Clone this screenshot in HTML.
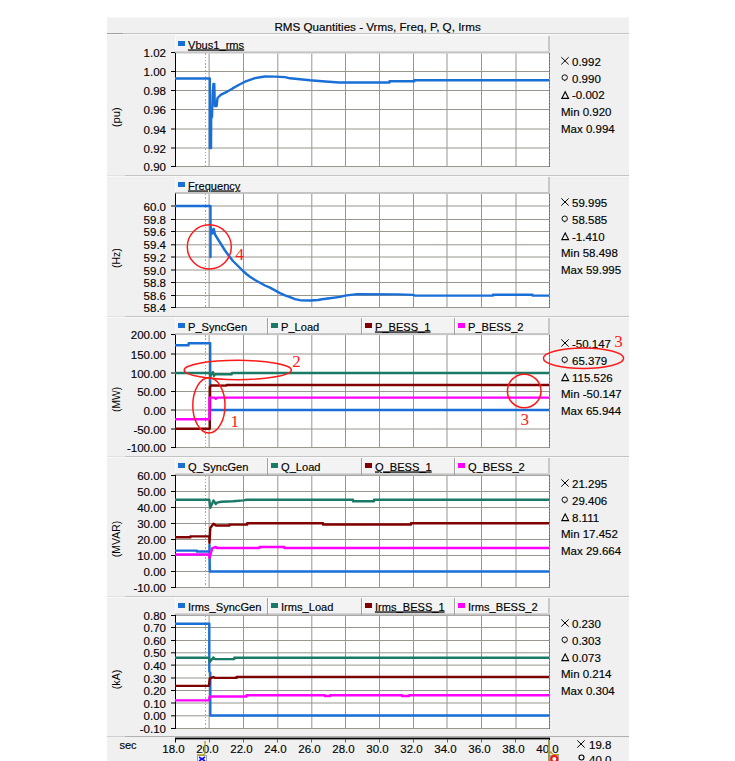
<!DOCTYPE html><html><head><meta charset="utf-8"><title>RMS Quantities</title><style>html,body{margin:0;padding:0;background:#fff;overflow:hidden}svg{display:block}</style></head><body>
<svg width="735" height="761" viewBox="0 0 735 761" shape-rendering="crispEdges">
<rect x="107" y="17" width="522" height="744" fill="#f0f0f0"/>
<rect x="107" y="17" width="522" height="1" fill="#f7f7f7"/>
<text x="377.6" y="30.5" font-size="11.65" text-anchor="middle" fill="#000" stroke="#000" stroke-width="0.15" font-family="'Liberation Sans', sans-serif" >RMS Quantities - Vrms, Freq, P, Q, Irms</text>
<rect x="107" y="33" width="522" height="1" fill="#c4c4c4"/>
<rect x="107" y="33" width="16" height="1" fill="#a0a0a0"/>
<rect x="107" y="34" width="522" height="1" fill="#f8f8f8"/>
<rect x="175" y="35" width="374" height="16.4" fill="#f3f3f3"/>
<rect x="175" y="35" width="374" height="1" fill="#fafafa"/>
<rect x="175" y="35" width="1" height="16.4" fill="#fafafa"/>
<rect x="175" y="53.4" width="374" height="113.6" fill="#fff" shape-rendering="geometricPrecision"/>
<rect x="208.6" y="53.4" width="1" height="112.6" fill="#9a968f" shape-rendering="geometricPrecision"/>
<rect x="243" y="53.4" width="1" height="112.6" fill="#9a968f" shape-rendering="geometricPrecision"/>
<rect x="277.3" y="53.4" width="1" height="112.6" fill="#9a968f" shape-rendering="geometricPrecision"/>
<rect x="311.3" y="53.4" width="1" height="112.6" fill="#9a968f" shape-rendering="geometricPrecision"/>
<rect x="345" y="53.4" width="1" height="112.6" fill="#9a968f" shape-rendering="geometricPrecision"/>
<rect x="379" y="53.4" width="1" height="112.6" fill="#9a968f" shape-rendering="geometricPrecision"/>
<rect x="413" y="53.4" width="1" height="112.6" fill="#9a968f" shape-rendering="geometricPrecision"/>
<rect x="446.5" y="53.4" width="1" height="112.6" fill="#9a968f" shape-rendering="geometricPrecision"/>
<rect x="481" y="53.4" width="1" height="112.6" fill="#9a968f" shape-rendering="geometricPrecision"/>
<rect x="515.5" y="53.4" width="1" height="112.6" fill="#9a968f" shape-rendering="geometricPrecision"/>
<rect x="175" y="52" width="374" height="1" fill="#9a968f" shape-rendering="geometricPrecision"/>
<rect x="171" y="52" width="4" height="1" fill="#000" shape-rendering="geometricPrecision"/>
<text x="166" y="57" font-size="11.5" text-anchor="end" fill="#000" stroke="#000" stroke-width="0.15" font-family="'Liberation Sans', sans-serif" >1.02</text>
<rect x="175" y="71" width="374" height="1" fill="#9a968f" shape-rendering="geometricPrecision"/>
<rect x="171" y="71" width="4" height="1" fill="#000" shape-rendering="geometricPrecision"/>
<text x="166" y="76" font-size="11.5" text-anchor="end" fill="#000" stroke="#000" stroke-width="0.15" font-family="'Liberation Sans', sans-serif" >1.00</text>
<rect x="175" y="90" width="374" height="1" fill="#9a968f" shape-rendering="geometricPrecision"/>
<rect x="171" y="90" width="4" height="1" fill="#000" shape-rendering="geometricPrecision"/>
<text x="166" y="95" font-size="11.5" text-anchor="end" fill="#000" stroke="#000" stroke-width="0.15" font-family="'Liberation Sans', sans-serif" >0.98</text>
<rect x="175" y="109" width="374" height="1" fill="#9a968f" shape-rendering="geometricPrecision"/>
<rect x="171" y="109" width="4" height="1" fill="#000" shape-rendering="geometricPrecision"/>
<text x="166" y="114" font-size="11.5" text-anchor="end" fill="#000" stroke="#000" stroke-width="0.15" font-family="'Liberation Sans', sans-serif" >0.96</text>
<rect x="175" y="128.5" width="374" height="1" fill="#9a968f" shape-rendering="geometricPrecision"/>
<rect x="171" y="128.5" width="4" height="1" fill="#000" shape-rendering="geometricPrecision"/>
<text x="166" y="133.5" font-size="11.5" text-anchor="end" fill="#000" stroke="#000" stroke-width="0.15" font-family="'Liberation Sans', sans-serif" >0.94</text>
<rect x="175" y="147.5" width="374" height="1" fill="#9a968f" shape-rendering="geometricPrecision"/>
<rect x="171" y="147.5" width="4" height="1" fill="#000" shape-rendering="geometricPrecision"/>
<text x="166" y="152.5" font-size="11.5" text-anchor="end" fill="#000" stroke="#000" stroke-width="0.15" font-family="'Liberation Sans', sans-serif" >0.92</text>
<rect x="175" y="166" width="374" height="1" fill="#9a968f" shape-rendering="geometricPrecision"/>
<rect x="171" y="166" width="4" height="1" fill="#000" shape-rendering="geometricPrecision"/>
<text x="166" y="171" font-size="11.5" text-anchor="end" fill="#000" stroke="#000" stroke-width="0.15" font-family="'Liberation Sans', sans-serif" >0.90</text>
<rect x="175" y="51.4" width="375" height="2" fill="#c4c4c4" shape-rendering="geometricPrecision"/>
<rect x="175" y="52.9" width="1" height="114.1" fill="#000" shape-rendering="geometricPrecision"/>
<rect x="549" y="53.4" width="1" height="113.6" fill="#909090"/>
<line x1="549.5" y1="53.4" x2="549.5" y2="167" stroke="#e03050" stroke-width="1" stroke-dasharray="1.6,1.7" shape-rendering="geometricPrecision"/>
<line x1="205.5" y1="53.4" x2="205.5" y2="167" stroke="#7aaef2" stroke-width="1" stroke-dasharray="1.4,1.87"/>
<text x="0" y="0" font-size="11.3" font-family="'Liberation Sans', sans-serif" text-anchor="middle" textLength="20" lengthAdjust="spacingAndGlyphs" transform="translate(119.6,117.3) rotate(-90)">(pu)</text>
<rect x="178" y="41" width="7" height="5" fill="#1a6fd6"/>
<text x="188" y="48.5" font-size="11.1" text-anchor="start" fill="#000" stroke="#000" stroke-width="0.15" font-family="'Liberation Sans', sans-serif"  text-decoration="underline">Vbus1_rms</text>
<rect x="548" y="36" width="2" height="15.399999999999999" fill="#c8c8c8"/>
<path d="M561.3 57.199999999999996 L568.7 64.39999999999999 M568.7 57.199999999999996 L561.3 64.39999999999999" stroke="#000" stroke-width="1" fill="none" shape-rendering="geometricPrecision"/>
<text x="572" y="65.8" font-size="11.5" text-anchor="start" fill="#000" stroke="#000" stroke-width="0.15" font-family="'Liberation Sans', sans-serif" >0.992</text>
<circle cx="564.7" cy="77.5" r="2.7" stroke="#000" stroke-width="0.95" fill="none" shape-rendering="geometricPrecision"/>
<rect x="564.2" y="80.1" width="1" height="1" fill="#000" shape-rendering="geometricPrecision"/>
<text x="572" y="82.6" font-size="11.5" text-anchor="start" fill="#000" stroke="#000" stroke-width="0.15" font-family="'Liberation Sans', sans-serif" >0.990</text>
<path d="M565.2 91.80000000000001 L568.6 98.4 L561.8 98.4 Z" stroke="#000" stroke-width="1.1" stroke-linejoin="miter" fill="none" shape-rendering="geometricPrecision"/>
<text x="572" y="99.4" font-size="11.5" text-anchor="start" fill="#000" stroke="#000" stroke-width="0.15" font-family="'Liberation Sans', sans-serif" >-0.002</text>
<text x="561" y="116.2" font-size="11.5" text-anchor="start" fill="#000" stroke="#000" stroke-width="0.15" font-family="'Liberation Sans', sans-serif" >Min 0.920</text>
<text x="561" y="133.0" font-size="11.5" text-anchor="start" fill="#000" stroke="#000" stroke-width="0.15" font-family="'Liberation Sans', sans-serif" >Max 0.994</text>
<rect x="107" y="175" width="18" height="1" fill="#e2e2e2"/>
<rect x="125" y="175" width="504" height="1" fill="#c4c4c4"/>
<rect x="107" y="176" width="522" height="1" fill="#f8f8f8"/>
<rect x="175" y="176" width="374" height="16" fill="#f3f3f3"/>
<rect x="175" y="176" width="374" height="1" fill="#fafafa"/>
<rect x="175" y="176" width="1" height="16" fill="#fafafa"/>
<rect x="175" y="194" width="374" height="114" fill="#fff" shape-rendering="geometricPrecision"/>
<rect x="208.6" y="194" width="1" height="113" fill="#9a968f" shape-rendering="geometricPrecision"/>
<rect x="243" y="194" width="1" height="113" fill="#9a968f" shape-rendering="geometricPrecision"/>
<rect x="277.3" y="194" width="1" height="113" fill="#9a968f" shape-rendering="geometricPrecision"/>
<rect x="311.3" y="194" width="1" height="113" fill="#9a968f" shape-rendering="geometricPrecision"/>
<rect x="345" y="194" width="1" height="113" fill="#9a968f" shape-rendering="geometricPrecision"/>
<rect x="379" y="194" width="1" height="113" fill="#9a968f" shape-rendering="geometricPrecision"/>
<rect x="413" y="194" width="1" height="113" fill="#9a968f" shape-rendering="geometricPrecision"/>
<rect x="446.5" y="194" width="1" height="113" fill="#9a968f" shape-rendering="geometricPrecision"/>
<rect x="481" y="194" width="1" height="113" fill="#9a968f" shape-rendering="geometricPrecision"/>
<rect x="515.5" y="194" width="1" height="113" fill="#9a968f" shape-rendering="geometricPrecision"/>
<rect x="175" y="205.5" width="374" height="1" fill="#9a968f" shape-rendering="geometricPrecision"/>
<rect x="171" y="205.5" width="4" height="1" fill="#000" shape-rendering="geometricPrecision"/>
<text x="166" y="210.5" font-size="11.5" text-anchor="end" fill="#000" stroke="#000" stroke-width="0.15" font-family="'Liberation Sans', sans-serif" >60.0</text>
<rect x="175" y="219" width="374" height="1" fill="#9a968f" shape-rendering="geometricPrecision"/>
<rect x="171" y="219" width="4" height="1" fill="#000" shape-rendering="geometricPrecision"/>
<text x="166" y="224" font-size="11.5" text-anchor="end" fill="#000" stroke="#000" stroke-width="0.15" font-family="'Liberation Sans', sans-serif" >59.8</text>
<rect x="175" y="231" width="374" height="1" fill="#9a968f" shape-rendering="geometricPrecision"/>
<rect x="171" y="231" width="4" height="1" fill="#000" shape-rendering="geometricPrecision"/>
<text x="166" y="236" font-size="11.5" text-anchor="end" fill="#000" stroke="#000" stroke-width="0.15" font-family="'Liberation Sans', sans-serif" >59.6</text>
<rect x="175" y="244.3" width="374" height="1" fill="#9a968f" shape-rendering="geometricPrecision"/>
<rect x="171" y="244.3" width="4" height="1" fill="#000" shape-rendering="geometricPrecision"/>
<text x="166" y="249.3" font-size="11.5" text-anchor="end" fill="#000" stroke="#000" stroke-width="0.15" font-family="'Liberation Sans', sans-serif" >59.4</text>
<rect x="175" y="256.5" width="374" height="1" fill="#9a968f" shape-rendering="geometricPrecision"/>
<rect x="171" y="256.5" width="4" height="1" fill="#000" shape-rendering="geometricPrecision"/>
<text x="166" y="261.5" font-size="11.5" text-anchor="end" fill="#000" stroke="#000" stroke-width="0.15" font-family="'Liberation Sans', sans-serif" >59.2</text>
<rect x="175" y="269.5" width="374" height="1" fill="#9a968f" shape-rendering="geometricPrecision"/>
<rect x="171" y="269.5" width="4" height="1" fill="#000" shape-rendering="geometricPrecision"/>
<text x="166" y="274.5" font-size="11.5" text-anchor="end" fill="#000" stroke="#000" stroke-width="0.15" font-family="'Liberation Sans', sans-serif" >59.0</text>
<rect x="175" y="282" width="374" height="1" fill="#9a968f" shape-rendering="geometricPrecision"/>
<rect x="171" y="282" width="4" height="1" fill="#000" shape-rendering="geometricPrecision"/>
<text x="166" y="287" font-size="11.5" text-anchor="end" fill="#000" stroke="#000" stroke-width="0.15" font-family="'Liberation Sans', sans-serif" >58.8</text>
<rect x="175" y="295" width="374" height="1" fill="#9a968f" shape-rendering="geometricPrecision"/>
<rect x="171" y="295" width="4" height="1" fill="#000" shape-rendering="geometricPrecision"/>
<text x="166" y="300" font-size="11.5" text-anchor="end" fill="#000" stroke="#000" stroke-width="0.15" font-family="'Liberation Sans', sans-serif" >58.6</text>
<rect x="175" y="307" width="374" height="1" fill="#9a968f" shape-rendering="geometricPrecision"/>
<rect x="171" y="307" width="4" height="1" fill="#000" shape-rendering="geometricPrecision"/>
<text x="166" y="312" font-size="11.5" text-anchor="end" fill="#000" stroke="#000" stroke-width="0.15" font-family="'Liberation Sans', sans-serif" >58.4</text>
<rect x="175" y="192" width="375" height="2" fill="#c4c4c4" shape-rendering="geometricPrecision"/>
<rect x="175" y="193.5" width="1" height="114.5" fill="#000" shape-rendering="geometricPrecision"/>
<rect x="549" y="194" width="1" height="114" fill="#909090"/>
<line x1="549.5" y1="194" x2="549.5" y2="308" stroke="#e03050" stroke-width="1" stroke-dasharray="1.6,1.7" shape-rendering="geometricPrecision"/>
<line x1="205.5" y1="194" x2="205.5" y2="308" stroke="#7aaef2" stroke-width="1" stroke-dasharray="1.4,1.87"/>
<text x="0" y="0" font-size="11.3" font-family="'Liberation Sans', sans-serif" text-anchor="middle" textLength="19.8" lengthAdjust="spacingAndGlyphs" transform="translate(119.6,258.2) rotate(-90)">(Hz)</text>
<rect x="178" y="182" width="7" height="5" fill="#1a6fd6"/>
<text x="188" y="189.5" font-size="11.1" text-anchor="start" fill="#000" stroke="#000" stroke-width="0.15" font-family="'Liberation Sans', sans-serif"  text-decoration="underline">Frequency</text>
<rect x="548" y="177" width="2" height="15" fill="#c8c8c8"/>
<path d="M561.3 198.4 L568.7 205.6 M568.7 198.4 L561.3 205.6" stroke="#000" stroke-width="1" fill="none" shape-rendering="geometricPrecision"/>
<text x="572" y="207.0" font-size="11.5" text-anchor="start" fill="#000" stroke="#000" stroke-width="0.15" font-family="'Liberation Sans', sans-serif" >59.995</text>
<circle cx="564.7" cy="218.70000000000002" r="2.7" stroke="#000" stroke-width="0.95" fill="none" shape-rendering="geometricPrecision"/>
<rect x="564.2" y="221.3" width="1" height="1" fill="#000" shape-rendering="geometricPrecision"/>
<text x="572" y="223.8" font-size="11.5" text-anchor="start" fill="#000" stroke="#000" stroke-width="0.15" font-family="'Liberation Sans', sans-serif" >58.585</text>
<path d="M565.2 233.0 L568.6 239.6 L561.8 239.6 Z" stroke="#000" stroke-width="1.1" stroke-linejoin="miter" fill="none" shape-rendering="geometricPrecision"/>
<text x="572" y="240.6" font-size="11.5" text-anchor="start" fill="#000" stroke="#000" stroke-width="0.15" font-family="'Liberation Sans', sans-serif" >-1.410</text>
<text x="561" y="257.4" font-size="11.5" text-anchor="start" fill="#000" stroke="#000" stroke-width="0.15" font-family="'Liberation Sans', sans-serif" >Min 58.498</text>
<text x="561" y="274.2" font-size="11.5" text-anchor="start" fill="#000" stroke="#000" stroke-width="0.15" font-family="'Liberation Sans', sans-serif" >Max 59.995</text>
<rect x="107" y="316" width="18" height="1" fill="#e2e2e2"/>
<rect x="125" y="316" width="504" height="1" fill="#c4c4c4"/>
<rect x="107" y="317" width="522" height="1" fill="#f8f8f8"/>
<rect x="175" y="317" width="374" height="16.100000000000023" fill="#f3f3f3"/>
<rect x="175" y="317" width="374" height="1" fill="#fafafa"/>
<rect x="175" y="317" width="1" height="16.100000000000023" fill="#fafafa"/>
<rect x="175" y="335.1" width="374" height="112.89999999999998" fill="#fff" shape-rendering="geometricPrecision"/>
<rect x="208.6" y="335.1" width="1" height="111.89999999999998" fill="#9a968f" shape-rendering="geometricPrecision"/>
<rect x="243" y="335.1" width="1" height="111.89999999999998" fill="#9a968f" shape-rendering="geometricPrecision"/>
<rect x="277.3" y="335.1" width="1" height="111.89999999999998" fill="#9a968f" shape-rendering="geometricPrecision"/>
<rect x="311.3" y="335.1" width="1" height="111.89999999999998" fill="#9a968f" shape-rendering="geometricPrecision"/>
<rect x="345" y="335.1" width="1" height="111.89999999999998" fill="#9a968f" shape-rendering="geometricPrecision"/>
<rect x="379" y="335.1" width="1" height="111.89999999999998" fill="#9a968f" shape-rendering="geometricPrecision"/>
<rect x="413" y="335.1" width="1" height="111.89999999999998" fill="#9a968f" shape-rendering="geometricPrecision"/>
<rect x="446.5" y="335.1" width="1" height="111.89999999999998" fill="#9a968f" shape-rendering="geometricPrecision"/>
<rect x="481" y="335.1" width="1" height="111.89999999999998" fill="#9a968f" shape-rendering="geometricPrecision"/>
<rect x="515.5" y="335.1" width="1" height="111.89999999999998" fill="#9a968f" shape-rendering="geometricPrecision"/>
<rect x="175" y="334" width="374" height="1" fill="#9a968f" shape-rendering="geometricPrecision"/>
<rect x="171" y="334" width="4" height="1" fill="#000" shape-rendering="geometricPrecision"/>
<text x="166" y="339" font-size="11.5" text-anchor="end" fill="#000" stroke="#000" stroke-width="0.15" font-family="'Liberation Sans', sans-serif" >200.00</text>
<rect x="175" y="353.5" width="374" height="1" fill="#9a968f" shape-rendering="geometricPrecision"/>
<rect x="171" y="353.5" width="4" height="1" fill="#000" shape-rendering="geometricPrecision"/>
<text x="166" y="358.5" font-size="11.5" text-anchor="end" fill="#000" stroke="#000" stroke-width="0.15" font-family="'Liberation Sans', sans-serif" >150.00</text>
<rect x="175" y="372.5" width="374" height="1" fill="#9a968f" shape-rendering="geometricPrecision"/>
<rect x="171" y="372.5" width="4" height="1" fill="#000" shape-rendering="geometricPrecision"/>
<text x="166" y="377.5" font-size="11.5" text-anchor="end" fill="#000" stroke="#000" stroke-width="0.15" font-family="'Liberation Sans', sans-serif" >100.00</text>
<rect x="175" y="391" width="374" height="1" fill="#9a968f" shape-rendering="geometricPrecision"/>
<rect x="171" y="391" width="4" height="1" fill="#000" shape-rendering="geometricPrecision"/>
<text x="166" y="396" font-size="11.5" text-anchor="end" fill="#000" stroke="#000" stroke-width="0.15" font-family="'Liberation Sans', sans-serif" >50.00</text>
<rect x="175" y="409.5" width="374" height="1" fill="#9a968f" shape-rendering="geometricPrecision"/>
<rect x="171" y="409.5" width="4" height="1" fill="#000" shape-rendering="geometricPrecision"/>
<text x="166" y="414.5" font-size="11.5" text-anchor="end" fill="#000" stroke="#000" stroke-width="0.15" font-family="'Liberation Sans', sans-serif" >0.00</text>
<rect x="175" y="428.5" width="374" height="1" fill="#9a968f" shape-rendering="geometricPrecision"/>
<rect x="171" y="428.5" width="4" height="1" fill="#000" shape-rendering="geometricPrecision"/>
<text x="166" y="433.5" font-size="11.5" text-anchor="end" fill="#000" stroke="#000" stroke-width="0.15" font-family="'Liberation Sans', sans-serif" >-50.00</text>
<rect x="175" y="447" width="374" height="1" fill="#9a968f" shape-rendering="geometricPrecision"/>
<rect x="171" y="447" width="4" height="1" fill="#000" shape-rendering="geometricPrecision"/>
<text x="166" y="452" font-size="11.5" text-anchor="end" fill="#000" stroke="#000" stroke-width="0.15" font-family="'Liberation Sans', sans-serif" >-100.00</text>
<rect x="175" y="333.1" width="375" height="2" fill="#c4c4c4" shape-rendering="geometricPrecision"/>
<rect x="175" y="334.6" width="1" height="113.39999999999998" fill="#000" shape-rendering="geometricPrecision"/>
<rect x="549" y="335.1" width="1" height="112.89999999999998" fill="#909090"/>
<line x1="549.5" y1="335.1" x2="549.5" y2="448" stroke="#e03050" stroke-width="1" stroke-dasharray="1.6,1.7" shape-rendering="geometricPrecision"/>
<line x1="205.5" y1="335.1" x2="205.5" y2="448" stroke="#7aaef2" stroke-width="1" stroke-dasharray="1.4,1.87"/>
<text x="0" y="0" font-size="11.3" font-family="'Liberation Sans', sans-serif" text-anchor="middle" textLength="25" lengthAdjust="spacingAndGlyphs" transform="translate(119.6,399.4) rotate(-90)">(MW)</text>
<rect x="178" y="323" width="7" height="5" fill="#1a6fd6"/>
<text x="188" y="330.5" font-size="11.1" text-anchor="start" fill="#000" stroke="#000" stroke-width="0.15" font-family="'Liberation Sans', sans-serif" >P_SyncGen</text>
<rect x="267" y="318" width="1" height="16.700000000000024" fill="#a0a0a0" shape-rendering="geometricPrecision"/>
<rect x="268" y="318" width="1" height="15.100000000000023" fill="#fcfcfc"/>
<rect x="271" y="323" width="7" height="5" fill="#1b7a66"/>
<text x="281" y="330.5" font-size="11.1" text-anchor="start" fill="#000" stroke="#000" stroke-width="0.15" font-family="'Liberation Sans', sans-serif" >P_Load</text>
<rect x="361" y="318" width="1" height="16.700000000000024" fill="#a0a0a0" shape-rendering="geometricPrecision"/>
<rect x="362" y="318" width="1" height="15.100000000000023" fill="#fcfcfc"/>
<rect x="365" y="323" width="7" height="5" fill="#800000"/>
<text x="375" y="330.5" font-size="11.1" text-anchor="start" fill="#000" stroke="#000" stroke-width="0.15" font-family="'Liberation Sans', sans-serif"  text-decoration="underline">P_BESS_1</text>
<rect x="454" y="318" width="1" height="16.700000000000024" fill="#a0a0a0" shape-rendering="geometricPrecision"/>
<rect x="455" y="318" width="1" height="15.100000000000023" fill="#fcfcfc"/>
<rect x="458" y="323" width="7" height="5" fill="#ff00ff"/>
<text x="468" y="330.5" font-size="11.1" text-anchor="start" fill="#000" stroke="#000" stroke-width="0.15" font-family="'Liberation Sans', sans-serif" >P_BESS_2</text>
<rect x="548" y="318" width="2" height="15.100000000000023" fill="#c8c8c8"/>
<path d="M561.3 339.4 L568.7 346.6 M568.7 339.4 L561.3 346.6" stroke="#000" stroke-width="1" fill="none" shape-rendering="geometricPrecision"/>
<text x="572" y="348.0" font-size="11.5" text-anchor="start" fill="#000" stroke="#000" stroke-width="0.15" font-family="'Liberation Sans', sans-serif" >-50.147</text>
<circle cx="564.7" cy="359.7" r="2.7" stroke="#000" stroke-width="0.95" fill="none" shape-rendering="geometricPrecision"/>
<rect x="564.2" y="362.3" width="1" height="1" fill="#000" shape-rendering="geometricPrecision"/>
<text x="572" y="364.8" font-size="11.5" text-anchor="start" fill="#000" stroke="#000" stroke-width="0.15" font-family="'Liberation Sans', sans-serif" >65.379</text>
<path d="M565.2 374.0 L568.6 380.6 L561.8 380.6 Z" stroke="#000" stroke-width="1.1" stroke-linejoin="miter" fill="none" shape-rendering="geometricPrecision"/>
<text x="572" y="381.6" font-size="11.5" text-anchor="start" fill="#000" stroke="#000" stroke-width="0.15" font-family="'Liberation Sans', sans-serif" >115.526</text>
<text x="561" y="398.4" font-size="11.5" text-anchor="start" fill="#000" stroke="#000" stroke-width="0.15" font-family="'Liberation Sans', sans-serif" >Min -50.147</text>
<text x="561" y="415.2" font-size="11.5" text-anchor="start" fill="#000" stroke="#000" stroke-width="0.15" font-family="'Liberation Sans', sans-serif" >Max 65.944</text>
<rect x="107" y="456" width="18" height="1" fill="#e2e2e2"/>
<rect x="125" y="456" width="504" height="1" fill="#c4c4c4"/>
<rect x="107" y="457" width="522" height="1" fill="#f8f8f8"/>
<rect x="175" y="457" width="374" height="16.399999999999977" fill="#f3f3f3"/>
<rect x="175" y="457" width="374" height="1" fill="#fafafa"/>
<rect x="175" y="457" width="1" height="16.399999999999977" fill="#fafafa"/>
<rect x="175" y="475.4" width="374" height="112.60000000000002" fill="#fff" shape-rendering="geometricPrecision"/>
<rect x="208.6" y="475.4" width="1" height="111.60000000000002" fill="#9a968f" shape-rendering="geometricPrecision"/>
<rect x="243" y="475.4" width="1" height="111.60000000000002" fill="#9a968f" shape-rendering="geometricPrecision"/>
<rect x="277.3" y="475.4" width="1" height="111.60000000000002" fill="#9a968f" shape-rendering="geometricPrecision"/>
<rect x="311.3" y="475.4" width="1" height="111.60000000000002" fill="#9a968f" shape-rendering="geometricPrecision"/>
<rect x="345" y="475.4" width="1" height="111.60000000000002" fill="#9a968f" shape-rendering="geometricPrecision"/>
<rect x="379" y="475.4" width="1" height="111.60000000000002" fill="#9a968f" shape-rendering="geometricPrecision"/>
<rect x="413" y="475.4" width="1" height="111.60000000000002" fill="#9a968f" shape-rendering="geometricPrecision"/>
<rect x="446.5" y="475.4" width="1" height="111.60000000000002" fill="#9a968f" shape-rendering="geometricPrecision"/>
<rect x="481" y="475.4" width="1" height="111.60000000000002" fill="#9a968f" shape-rendering="geometricPrecision"/>
<rect x="515.5" y="475.4" width="1" height="111.60000000000002" fill="#9a968f" shape-rendering="geometricPrecision"/>
<rect x="175" y="475" width="374" height="1" fill="#9a968f" shape-rendering="geometricPrecision"/>
<rect x="171" y="475" width="4" height="1" fill="#000" shape-rendering="geometricPrecision"/>
<text x="166" y="480" font-size="11.5" text-anchor="end" fill="#000" stroke="#000" stroke-width="0.15" font-family="'Liberation Sans', sans-serif" >60.00</text>
<rect x="175" y="491" width="374" height="1" fill="#9a968f" shape-rendering="geometricPrecision"/>
<rect x="171" y="491" width="4" height="1" fill="#000" shape-rendering="geometricPrecision"/>
<text x="166" y="496" font-size="11.5" text-anchor="end" fill="#000" stroke="#000" stroke-width="0.15" font-family="'Liberation Sans', sans-serif" >50.00</text>
<rect x="175" y="507" width="374" height="1" fill="#9a968f" shape-rendering="geometricPrecision"/>
<rect x="171" y="507" width="4" height="1" fill="#000" shape-rendering="geometricPrecision"/>
<text x="166" y="512" font-size="11.5" text-anchor="end" fill="#000" stroke="#000" stroke-width="0.15" font-family="'Liberation Sans', sans-serif" >40.00</text>
<rect x="175" y="523" width="374" height="1" fill="#9a968f" shape-rendering="geometricPrecision"/>
<rect x="171" y="523" width="4" height="1" fill="#000" shape-rendering="geometricPrecision"/>
<text x="166" y="528" font-size="11.5" text-anchor="end" fill="#000" stroke="#000" stroke-width="0.15" font-family="'Liberation Sans', sans-serif" >30.00</text>
<rect x="175" y="539" width="374" height="1" fill="#9a968f" shape-rendering="geometricPrecision"/>
<rect x="171" y="539" width="4" height="1" fill="#000" shape-rendering="geometricPrecision"/>
<text x="166" y="544" font-size="11.5" text-anchor="end" fill="#000" stroke="#000" stroke-width="0.15" font-family="'Liberation Sans', sans-serif" >20.00</text>
<rect x="175" y="555" width="374" height="1" fill="#9a968f" shape-rendering="geometricPrecision"/>
<rect x="171" y="555" width="4" height="1" fill="#000" shape-rendering="geometricPrecision"/>
<text x="166" y="560" font-size="11.5" text-anchor="end" fill="#000" stroke="#000" stroke-width="0.15" font-family="'Liberation Sans', sans-serif" >10.00</text>
<rect x="175" y="571" width="374" height="1" fill="#9a968f" shape-rendering="geometricPrecision"/>
<rect x="171" y="571" width="4" height="1" fill="#000" shape-rendering="geometricPrecision"/>
<text x="166" y="576" font-size="11.5" text-anchor="end" fill="#000" stroke="#000" stroke-width="0.15" font-family="'Liberation Sans', sans-serif" >0.00</text>
<rect x="175" y="587" width="374" height="1" fill="#9a968f" shape-rendering="geometricPrecision"/>
<rect x="171" y="587" width="4" height="1" fill="#000" shape-rendering="geometricPrecision"/>
<text x="166" y="592" font-size="11.5" text-anchor="end" fill="#000" stroke="#000" stroke-width="0.15" font-family="'Liberation Sans', sans-serif" >-10.00</text>
<rect x="175" y="473.4" width="375" height="2" fill="#c4c4c4" shape-rendering="geometricPrecision"/>
<rect x="175" y="474.9" width="1" height="113.10000000000002" fill="#000" shape-rendering="geometricPrecision"/>
<rect x="549" y="475.4" width="1" height="112.60000000000002" fill="#909090"/>
<line x1="549.5" y1="475.4" x2="549.5" y2="588" stroke="#e03050" stroke-width="1" stroke-dasharray="1.6,1.7" shape-rendering="geometricPrecision"/>
<line x1="205.5" y1="475.4" x2="205.5" y2="588" stroke="#7aaef2" stroke-width="1" stroke-dasharray="1.4,1.87"/>
<text x="0" y="0" font-size="11.3" font-family="'Liberation Sans', sans-serif" text-anchor="middle" textLength="36.3" lengthAdjust="spacingAndGlyphs" transform="translate(119.6,539) rotate(-90)">(MVAR)</text>
<rect x="178" y="463" width="7" height="5" fill="#1a6fd6"/>
<text x="188" y="470.5" font-size="11.1" text-anchor="start" fill="#000" stroke="#000" stroke-width="0.15" font-family="'Liberation Sans', sans-serif" >Q_SyncGen</text>
<rect x="267" y="458" width="1" height="16.99999999999998" fill="#a0a0a0" shape-rendering="geometricPrecision"/>
<rect x="268" y="458" width="1" height="15.399999999999977" fill="#fcfcfc"/>
<rect x="271" y="463" width="7" height="5" fill="#1b7a66"/>
<text x="281" y="470.5" font-size="11.1" text-anchor="start" fill="#000" stroke="#000" stroke-width="0.15" font-family="'Liberation Sans', sans-serif" >Q_Load</text>
<rect x="361" y="458" width="1" height="16.99999999999998" fill="#a0a0a0" shape-rendering="geometricPrecision"/>
<rect x="362" y="458" width="1" height="15.399999999999977" fill="#fcfcfc"/>
<rect x="365" y="463" width="7" height="5" fill="#800000"/>
<text x="375" y="470.5" font-size="11.1" text-anchor="start" fill="#000" stroke="#000" stroke-width="0.15" font-family="'Liberation Sans', sans-serif"  text-decoration="underline">Q_BESS_1</text>
<rect x="454" y="458" width="1" height="16.99999999999998" fill="#a0a0a0" shape-rendering="geometricPrecision"/>
<rect x="455" y="458" width="1" height="15.399999999999977" fill="#fcfcfc"/>
<rect x="458" y="463" width="7" height="5" fill="#ff00ff"/>
<text x="468" y="470.5" font-size="11.1" text-anchor="start" fill="#000" stroke="#000" stroke-width="0.15" font-family="'Liberation Sans', sans-serif" >Q_BESS_2</text>
<rect x="548" y="458" width="2" height="15.399999999999977" fill="#c8c8c8"/>
<path d="M561.3 479.4 L568.7 486.6 M568.7 479.4 L561.3 486.6" stroke="#000" stroke-width="1" fill="none" shape-rendering="geometricPrecision"/>
<text x="572" y="488.0" font-size="11.5" text-anchor="start" fill="#000" stroke="#000" stroke-width="0.15" font-family="'Liberation Sans', sans-serif" >21.295</text>
<circle cx="564.7" cy="499.7" r="2.7" stroke="#000" stroke-width="0.95" fill="none" shape-rendering="geometricPrecision"/>
<rect x="564.2" y="502.3" width="1" height="1" fill="#000" shape-rendering="geometricPrecision"/>
<text x="572" y="504.8" font-size="11.5" text-anchor="start" fill="#000" stroke="#000" stroke-width="0.15" font-family="'Liberation Sans', sans-serif" >29.406</text>
<path d="M565.2 514.0 L568.6 520.6 L561.8 520.6 Z" stroke="#000" stroke-width="1.1" stroke-linejoin="miter" fill="none" shape-rendering="geometricPrecision"/>
<text x="572" y="521.6" font-size="11.5" text-anchor="start" fill="#000" stroke="#000" stroke-width="0.15" font-family="'Liberation Sans', sans-serif" >8.111</text>
<text x="561" y="538.4" font-size="11.5" text-anchor="start" fill="#000" stroke="#000" stroke-width="0.15" font-family="'Liberation Sans', sans-serif" >Min 17.452</text>
<text x="561" y="555.2" font-size="11.5" text-anchor="start" fill="#000" stroke="#000" stroke-width="0.15" font-family="'Liberation Sans', sans-serif" >Max 29.664</text>
<rect x="107" y="596" width="18" height="1" fill="#e2e2e2"/>
<rect x="125" y="596" width="504" height="1" fill="#c4c4c4"/>
<rect x="107" y="597" width="522" height="1" fill="#f8f8f8"/>
<rect x="175" y="597" width="374" height="16.399999999999977" fill="#f3f3f3"/>
<rect x="175" y="597" width="374" height="1" fill="#fafafa"/>
<rect x="175" y="597" width="1" height="16.399999999999977" fill="#fafafa"/>
<rect x="175" y="615.4" width="374" height="113.60000000000002" fill="#fff" shape-rendering="geometricPrecision"/>
<rect x="208.6" y="615.4" width="1" height="112.60000000000002" fill="#9a968f" shape-rendering="geometricPrecision"/>
<rect x="243" y="615.4" width="1" height="112.60000000000002" fill="#9a968f" shape-rendering="geometricPrecision"/>
<rect x="277.3" y="615.4" width="1" height="112.60000000000002" fill="#9a968f" shape-rendering="geometricPrecision"/>
<rect x="311.3" y="615.4" width="1" height="112.60000000000002" fill="#9a968f" shape-rendering="geometricPrecision"/>
<rect x="345" y="615.4" width="1" height="112.60000000000002" fill="#9a968f" shape-rendering="geometricPrecision"/>
<rect x="379" y="615.4" width="1" height="112.60000000000002" fill="#9a968f" shape-rendering="geometricPrecision"/>
<rect x="413" y="615.4" width="1" height="112.60000000000002" fill="#9a968f" shape-rendering="geometricPrecision"/>
<rect x="446.5" y="615.4" width="1" height="112.60000000000002" fill="#9a968f" shape-rendering="geometricPrecision"/>
<rect x="481" y="615.4" width="1" height="112.60000000000002" fill="#9a968f" shape-rendering="geometricPrecision"/>
<rect x="515.5" y="615.4" width="1" height="112.60000000000002" fill="#9a968f" shape-rendering="geometricPrecision"/>
<rect x="175" y="615" width="374" height="1" fill="#9a968f" shape-rendering="geometricPrecision"/>
<rect x="171" y="615" width="4" height="1" fill="#000" shape-rendering="geometricPrecision"/>
<text x="166" y="620" font-size="11.5" text-anchor="end" fill="#000" stroke="#000" stroke-width="0.15" font-family="'Liberation Sans', sans-serif" >0.80</text>
<rect x="175" y="627" width="374" height="1" fill="#9a968f" shape-rendering="geometricPrecision"/>
<rect x="171" y="627" width="4" height="1" fill="#000" shape-rendering="geometricPrecision"/>
<text x="166" y="632" font-size="11.5" text-anchor="end" fill="#000" stroke="#000" stroke-width="0.15" font-family="'Liberation Sans', sans-serif" >0.70</text>
<rect x="175" y="640" width="374" height="1" fill="#9a968f" shape-rendering="geometricPrecision"/>
<rect x="171" y="640" width="4" height="1" fill="#000" shape-rendering="geometricPrecision"/>
<text x="166" y="645" font-size="11.5" text-anchor="end" fill="#000" stroke="#000" stroke-width="0.15" font-family="'Liberation Sans', sans-serif" >0.60</text>
<rect x="175" y="652.3" width="374" height="1" fill="#9a968f" shape-rendering="geometricPrecision"/>
<rect x="171" y="652.3" width="4" height="1" fill="#000" shape-rendering="geometricPrecision"/>
<text x="166" y="657.3" font-size="11.5" text-anchor="end" fill="#000" stroke="#000" stroke-width="0.15" font-family="'Liberation Sans', sans-serif" >0.50</text>
<rect x="175" y="664.6" width="374" height="1" fill="#9a968f" shape-rendering="geometricPrecision"/>
<rect x="171" y="664.6" width="4" height="1" fill="#000" shape-rendering="geometricPrecision"/>
<text x="166" y="669.6" font-size="11.5" text-anchor="end" fill="#000" stroke="#000" stroke-width="0.15" font-family="'Liberation Sans', sans-serif" >0.40</text>
<rect x="175" y="677.5" width="374" height="1" fill="#9a968f" shape-rendering="geometricPrecision"/>
<rect x="171" y="677.5" width="4" height="1" fill="#000" shape-rendering="geometricPrecision"/>
<text x="166" y="682.5" font-size="11.5" text-anchor="end" fill="#000" stroke="#000" stroke-width="0.15" font-family="'Liberation Sans', sans-serif" >0.30</text>
<rect x="175" y="690" width="374" height="1" fill="#9a968f" shape-rendering="geometricPrecision"/>
<rect x="171" y="690" width="4" height="1" fill="#000" shape-rendering="geometricPrecision"/>
<text x="166" y="695" font-size="11.5" text-anchor="end" fill="#000" stroke="#000" stroke-width="0.15" font-family="'Liberation Sans', sans-serif" >0.20</text>
<rect x="175" y="702.5" width="374" height="1" fill="#9a968f" shape-rendering="geometricPrecision"/>
<rect x="171" y="702.5" width="4" height="1" fill="#000" shape-rendering="geometricPrecision"/>
<text x="166" y="707.5" font-size="11.5" text-anchor="end" fill="#000" stroke="#000" stroke-width="0.15" font-family="'Liberation Sans', sans-serif" >0.10</text>
<rect x="175" y="715.3" width="374" height="1" fill="#9a968f" shape-rendering="geometricPrecision"/>
<rect x="171" y="715.3" width="4" height="1" fill="#000" shape-rendering="geometricPrecision"/>
<text x="166" y="720.3" font-size="11.5" text-anchor="end" fill="#000" stroke="#000" stroke-width="0.15" font-family="'Liberation Sans', sans-serif" >0.00</text>
<rect x="175" y="728" width="374" height="1" fill="#9a968f" shape-rendering="geometricPrecision"/>
<rect x="171" y="728" width="4" height="1" fill="#000" shape-rendering="geometricPrecision"/>
<text x="166" y="733" font-size="11.5" text-anchor="end" fill="#000" stroke="#000" stroke-width="0.15" font-family="'Liberation Sans', sans-serif" >-0.10</text>
<rect x="175" y="613.4" width="375" height="2" fill="#c4c4c4" shape-rendering="geometricPrecision"/>
<rect x="175" y="614.9" width="1" height="114.10000000000002" fill="#000" shape-rendering="geometricPrecision"/>
<rect x="549" y="615.4" width="1" height="113.60000000000002" fill="#909090"/>
<line x1="549.5" y1="615.4" x2="549.5" y2="729" stroke="#e03050" stroke-width="1" stroke-dasharray="1.6,1.7" shape-rendering="geometricPrecision"/>
<line x1="205.5" y1="615.4" x2="205.5" y2="729" stroke="#7aaef2" stroke-width="1" stroke-dasharray="1.4,1.87"/>
<text x="0" y="0" font-size="11.3" font-family="'Liberation Sans', sans-serif" text-anchor="middle" textLength="19.6" lengthAdjust="spacingAndGlyphs" transform="translate(119.6,679.4) rotate(-90)">(kA)</text>
<rect x="178" y="603" width="7" height="5" fill="#1a6fd6"/>
<text x="188" y="610.5" font-size="11.1" text-anchor="start" fill="#000" stroke="#000" stroke-width="0.15" font-family="'Liberation Sans', sans-serif" >Irms_SyncGen</text>
<rect x="267" y="598" width="1" height="16.99999999999998" fill="#a0a0a0" shape-rendering="geometricPrecision"/>
<rect x="268" y="598" width="1" height="15.399999999999977" fill="#fcfcfc"/>
<rect x="271" y="603" width="7" height="5" fill="#1b7a66"/>
<text x="281" y="610.5" font-size="11.1" text-anchor="start" fill="#000" stroke="#000" stroke-width="0.15" font-family="'Liberation Sans', sans-serif" >Irms_Load</text>
<rect x="361" y="598" width="1" height="16.99999999999998" fill="#a0a0a0" shape-rendering="geometricPrecision"/>
<rect x="362" y="598" width="1" height="15.399999999999977" fill="#fcfcfc"/>
<rect x="365" y="603" width="7" height="5" fill="#800000"/>
<text x="375" y="610.5" font-size="11.1" text-anchor="start" fill="#000" stroke="#000" stroke-width="0.15" font-family="'Liberation Sans', sans-serif"  text-decoration="underline">Irms_BESS_1</text>
<rect x="454" y="598" width="1" height="16.99999999999998" fill="#a0a0a0" shape-rendering="geometricPrecision"/>
<rect x="455" y="598" width="1" height="15.399999999999977" fill="#fcfcfc"/>
<rect x="458" y="603" width="7" height="5" fill="#ff00ff"/>
<text x="468" y="610.5" font-size="11.1" text-anchor="start" fill="#000" stroke="#000" stroke-width="0.15" font-family="'Liberation Sans', sans-serif" >Irms_BESS_2</text>
<rect x="548" y="598" width="2" height="15.399999999999977" fill="#c8c8c8"/>
<path d="M561.3 619.4 L568.7 626.6 M568.7 619.4 L561.3 626.6" stroke="#000" stroke-width="1" fill="none" shape-rendering="geometricPrecision"/>
<text x="572" y="628.0" font-size="11.5" text-anchor="start" fill="#000" stroke="#000" stroke-width="0.15" font-family="'Liberation Sans', sans-serif" >0.230</text>
<circle cx="564.7" cy="639.6999999999999" r="2.7" stroke="#000" stroke-width="0.95" fill="none" shape-rendering="geometricPrecision"/>
<rect x="564.2" y="642.3" width="1" height="1" fill="#000" shape-rendering="geometricPrecision"/>
<text x="572" y="644.8" font-size="11.5" text-anchor="start" fill="#000" stroke="#000" stroke-width="0.15" font-family="'Liberation Sans', sans-serif" >0.303</text>
<path d="M565.2 654.0 L568.6 660.6 L561.8 660.6 Z" stroke="#000" stroke-width="1.1" stroke-linejoin="miter" fill="none" shape-rendering="geometricPrecision"/>
<text x="572" y="661.6" font-size="11.5" text-anchor="start" fill="#000" stroke="#000" stroke-width="0.15" font-family="'Liberation Sans', sans-serif" >0.073</text>
<text x="561" y="678.4" font-size="11.5" text-anchor="start" fill="#000" stroke="#000" stroke-width="0.15" font-family="'Liberation Sans', sans-serif" >Min 0.214</text>
<text x="561" y="695.2" font-size="11.5" text-anchor="start" fill="#000" stroke="#000" stroke-width="0.15" font-family="'Liberation Sans', sans-serif" >Max 0.304</text>
<rect x="107" y="736" width="18" height="1" fill="#d0d0d0"/>
<rect x="125" y="736" width="504" height="1" fill="#b0b0b0"/>
<rect x="175" y="737" width="375" height="1" fill="#8a8a8a"/>
<rect x="175" y="738" width="375" height="1" fill="#000"/>
<rect x="175" y="739" width="375" height="0.4" fill="#000" shape-rendering="geometricPrecision"/>
<rect x="175" y="739" width="1" height="3.5" fill="#000" shape-rendering="geometricPrecision"/>
<text x="173.5" y="753" font-size="11.5" text-anchor="middle" fill="#000" stroke="#000" stroke-width="0.15" font-family="'Liberation Sans', sans-serif" >18.0</text>
<rect x="209" y="739" width="1" height="3.5" fill="#606060" shape-rendering="geometricPrecision"/>
<text x="207.5" y="753" font-size="11.5" text-anchor="middle" fill="#000" stroke="#000" stroke-width="0.15" font-family="'Liberation Sans', sans-serif" >20.0</text>
<rect x="243" y="739" width="1" height="3.5" fill="#606060" shape-rendering="geometricPrecision"/>
<text x="241.5" y="753" font-size="11.5" text-anchor="middle" fill="#000" stroke="#000" stroke-width="0.15" font-family="'Liberation Sans', sans-serif" >22.0</text>
<rect x="277" y="739" width="1" height="3.5" fill="#606060" shape-rendering="geometricPrecision"/>
<text x="275.5" y="753" font-size="11.5" text-anchor="middle" fill="#000" stroke="#000" stroke-width="0.15" font-family="'Liberation Sans', sans-serif" >24.0</text>
<rect x="311" y="739" width="1" height="3.5" fill="#606060" shape-rendering="geometricPrecision"/>
<text x="309.5" y="753" font-size="11.5" text-anchor="middle" fill="#000" stroke="#000" stroke-width="0.15" font-family="'Liberation Sans', sans-serif" >26.0</text>
<rect x="345" y="739" width="1" height="3.5" fill="#606060" shape-rendering="geometricPrecision"/>
<text x="343.5" y="753" font-size="11.5" text-anchor="middle" fill="#000" stroke="#000" stroke-width="0.15" font-family="'Liberation Sans', sans-serif" >28.0</text>
<rect x="379" y="739" width="1" height="3.5" fill="#606060" shape-rendering="geometricPrecision"/>
<text x="377.5" y="753" font-size="11.5" text-anchor="middle" fill="#000" stroke="#000" stroke-width="0.15" font-family="'Liberation Sans', sans-serif" >30.0</text>
<rect x="413" y="739" width="1" height="3.5" fill="#606060" shape-rendering="geometricPrecision"/>
<text x="411.5" y="753" font-size="11.5" text-anchor="middle" fill="#000" stroke="#000" stroke-width="0.15" font-family="'Liberation Sans', sans-serif" >32.0</text>
<rect x="447" y="739" width="1" height="3.5" fill="#606060" shape-rendering="geometricPrecision"/>
<text x="445.5" y="753" font-size="11.5" text-anchor="middle" fill="#000" stroke="#000" stroke-width="0.15" font-family="'Liberation Sans', sans-serif" >34.0</text>
<rect x="481" y="739" width="1" height="3.5" fill="#606060" shape-rendering="geometricPrecision"/>
<text x="479.5" y="753" font-size="11.5" text-anchor="middle" fill="#000" stroke="#000" stroke-width="0.15" font-family="'Liberation Sans', sans-serif" >36.0</text>
<rect x="515" y="739" width="1" height="3.5" fill="#606060" shape-rendering="geometricPrecision"/>
<text x="513.5" y="753" font-size="11.5" text-anchor="middle" fill="#000" stroke="#000" stroke-width="0.15" font-family="'Liberation Sans', sans-serif" >38.0</text>
<rect x="549" y="739" width="1" height="3.5" fill="#000" shape-rendering="geometricPrecision"/>
<text x="547.5" y="753" font-size="11.5" text-anchor="middle" fill="#000" stroke="#000" stroke-width="0.15" font-family="'Liberation Sans', sans-serif" >40.0</text>
<text x="128" y="749" font-size="11" text-anchor="middle" fill="#000" stroke="#000" stroke-width="0.15" font-family="'Liberation Sans', sans-serif" >sec</text>
<rect x="197.5" y="755.5" width="9" height="8" fill="#fff" stroke="#a0a0a0" stroke-width="1"/>
<path d="M199 757 L205 761 M205 757 L199 761" stroke="#1010ff" stroke-width="1.6" fill="none" shape-rendering="geometricPrecision"/>
<path d="M205 741 L205 753.5 L203 755 L197 755" stroke="#b0a010" stroke-width="1.3" fill="none" shape-rendering="geometricPrecision"/>
<rect x="550.5" y="755" width="8" height="8" fill="#fff" stroke="#a0a0a0" stroke-width="1"/>
<circle cx="554.3" cy="759" r="3" fill="none" stroke="#ff1010" stroke-width="2" shape-rendering="geometricPrecision"/>
<path d="M549 740 L549 761" stroke="#a09a50" stroke-width="1.2" fill="none"/>
<path d="M549.5 752 L553.5 754.5 L559 754.5" stroke="#b0a010" stroke-width="1.2" fill="none" shape-rendering="geometricPrecision"/>
<path d="M577.3 740.4 L584.7 747.6 M584.7 740.4 L577.3 747.6" stroke="#000" stroke-width="1" fill="none" shape-rendering="geometricPrecision"/>
<text x="589" y="749" font-size="11.5" text-anchor="start" fill="#000" stroke="#000" stroke-width="0.15" font-family="'Liberation Sans', sans-serif" >19.8</text>
<circle cx="581.5" cy="757.5" r="2.5" stroke="#000" stroke-width="1.1" fill="none" shape-rendering="geometricPrecision"/>
<text x="589" y="764" font-size="11.5" text-anchor="start" fill="#000" stroke="#000" stroke-width="0.15" font-family="'Liberation Sans', sans-serif" >40.0</text>
<path d="M175.0,78.5 L209.8,78.5 L209.8,148.0 L211.0,148.0 L211.2,118.0 L212.0,117.0 L212.6,95.0 L213.4,84.0 L214.3,84.0 L214.8,106.0 L216.6,106.0 L217.5,98.0 L221.0,94.7 L227.4,91.6 L232.6,88.4 L240.0,84.3 L245.0,81.7 L250.0,79.8 L255.0,78.1 L260.0,77.2 L265.0,76.5 L275.0,76.6 L285.0,77.1 L290.0,78.3 L300.0,79.2 L310.0,80.3 L322.0,81.3 L339.0,82.5 L389.5,82.5 L389.5,81.3 L414.3,81.3 L414.3,80.2 L549.0,80.2" stroke="#1a6fd6" stroke-width="2.4" fill="none" stroke-linejoin="round" stroke-linecap="butt" shape-rendering="geometricPrecision"/>
<path d="M175.0,206.0 L210.5,206.0 L210.5,257.0 L210.5,226.0 L212.3,233.5 L213.8,229.0 L215.0,234.5 L220.0,242.5 L225.0,250.5 L229.0,256.0 L233.0,261.0 L238.0,266.0 L243.0,271.0 L247.0,274.5 L250.0,276.8 L255.0,280.0 L260.0,282.7 L265.0,285.5 L270.0,287.6 L275.0,290.4 L280.0,293.1 L285.0,295.3 L290.0,297.2 L295.0,299.1 L300.0,300.2 L310.0,300.5 L318.0,300.0 L322.0,299.3 L328.0,298.5 L340.0,296.9 L345.0,295.6 L357.0,294.1 L398.0,294.4 L413.0,294.9 L415.0,295.6 L493.0,295.6 L493.0,294.8 L532.5,294.8 L532.5,295.6 L549.0,295.6" stroke="#1a6fd6" stroke-width="2.4" fill="none" stroke-linejoin="round" stroke-linecap="butt" shape-rendering="geometricPrecision"/>
<path d="M175.0,345.2 L188.6,345.2 L188.6,343.3 L210.2,343.3 L210.2,410.0 L549.0,410.0" stroke="#1a6fd6" stroke-width="2.4" fill="none" stroke-linejoin="round" stroke-linecap="butt" shape-rendering="geometricPrecision"/>
<path d="M175.0,373.0 L209.5,373.0 L210.5,376.0 L212.0,373.0 L213.0,372.0 L214.0,376.0 L215.0,374.3 L231.6,374.3 L232.0,373.0 L549.0,373.0" stroke="#1b7a66" stroke-width="2.4" fill="none" stroke-linejoin="round" stroke-linecap="butt" shape-rendering="geometricPrecision"/>
<path d="M175.0,428.8 L209.8,428.8 L209.8,387.0 L211.0,385.5 L213.0,385.4 L226.2,385.6 L226.5,385.0 L549.0,385.0" stroke="#800000" stroke-width="2.4" fill="none" stroke-linejoin="round" stroke-linecap="butt" shape-rendering="geometricPrecision"/>
<path d="M175.0,419.2 L209.5,419.2 L209.5,397.6 L214.5,397.6 L215.8,398.8 L217.0,397.6 L549.0,397.6" stroke="#ff00ff" stroke-width="2.4" fill="none" stroke-linejoin="round" stroke-linecap="butt" shape-rendering="geometricPrecision"/>
<path d="M175.0,550.6 L196.9,550.6 L196.9,551.5 L209.5,551.5 L209.5,545.0 L209.8,571.5 L549.0,571.5" stroke="#1a6fd6" stroke-width="2.4" fill="none" stroke-linejoin="round" stroke-linecap="butt" shape-rendering="geometricPrecision"/>
<path d="M175.0,499.8 L209.3,499.8 L210.3,507.8 L213.5,500.4 L215.8,504.0 L217.0,502.6 L221.2,501.8 L233.0,501.2 L243.6,500.4 L246.0,499.8 L353.0,499.8 L353.0,501.3 L374.0,501.3 L374.0,499.8 L549.0,499.8" stroke="#1b7a66" stroke-width="2.4" fill="none" stroke-linejoin="round" stroke-linecap="butt" shape-rendering="geometricPrecision"/>
<path d="M175.0,537.3 L190.4,537.3 L190.4,536.4 L209.3,536.4 L209.5,543.0 L210.3,528.0 L213.5,523.7 L216.0,525.5 L229.4,525.5 L229.4,524.6 L247.2,524.6 L247.2,523.3 L323.0,523.3 L323.0,524.5 L411.0,524.5 L411.0,523.3 L549.0,523.3" stroke="#800000" stroke-width="2.4" fill="none" stroke-linejoin="round" stroke-linecap="butt" shape-rendering="geometricPrecision"/>
<path d="M175.0,554.5 L209.3,554.5 L209.5,558.0 L212.3,548.2 L215.8,547.0 L217.0,548.0 L259.5,548.0 L259.5,547.0 L284.3,547.0 L284.3,548.0 L549.0,548.0" stroke="#ff00ff" stroke-width="2.4" fill="none" stroke-linejoin="round" stroke-linecap="butt" shape-rendering="geometricPrecision"/>
<path d="M175.0,623.7 L209.3,623.7 L209.3,671.0 L210.3,673.0 L210.3,715.5 L549.0,715.5" stroke="#1a6fd6" stroke-width="2.4" fill="none" stroke-linejoin="round" stroke-linecap="butt" shape-rendering="geometricPrecision"/>
<path d="M175.0,657.7 L209.0,657.7 L209.7,662.0 L213.3,657.4 L215.0,659.1 L234.3,659.1 L234.3,657.7 L549.0,657.7" stroke="#1b7a66" stroke-width="2.4" fill="none" stroke-linejoin="round" stroke-linecap="butt" shape-rendering="geometricPrecision"/>
<path d="M175.0,685.9 L209.0,685.9 L209.7,678.7 L213.3,677.0 L215.0,677.9 L236.5,677.9 L236.5,676.9 L549.0,676.9" stroke="#800000" stroke-width="2.4" fill="none" stroke-linejoin="round" stroke-linecap="butt" shape-rendering="geometricPrecision"/>
<path d="M175.0,700.4 L209.0,700.4 L209.7,696.5 L246.6,696.5 L246.6,695.3 L325.0,695.3 L325.0,696.0 L330.0,696.0 L330.0,695.3 L402.0,695.3 L402.0,696.0 L409.0,696.0 L409.0,695.3 L549.0,695.3" stroke="#ff00ff" stroke-width="2.4" fill="none" stroke-linejoin="round" stroke-linecap="butt" shape-rendering="geometricPrecision"/>
<ellipse cx="209.3" cy="246.9" rx="22" ry="22.1" stroke="#ff1a1a" stroke-width="1.5" fill="none" shape-rendering="geometricPrecision"/>
<text x="235.2" y="260.3" font-size="17.6" fill="#ff1a1a" font-family="'Liberation Serif', serif">4</text>
<ellipse cx="237.8" cy="370" rx="53.6" ry="9.65" stroke="#ff1a1a" stroke-width="1.5" fill="none" shape-rendering="geometricPrecision"/>
<text x="292.3" y="367.3" font-size="17" fill="#ff1a1a" font-family="'Liberation Serif', serif">2</text>
<ellipse cx="208.9" cy="405.4" rx="16.1" ry="27.6" stroke="#ff1a1a" stroke-width="1.5" fill="none" shape-rendering="geometricPrecision"/>
<text x="230.5" y="426.8" font-size="17" fill="#ff1a1a" font-family="'Liberation Serif', serif">1</text>
<ellipse cx="524.2" cy="391" rx="16.8" ry="16.8" stroke="#ff1a1a" stroke-width="1.5" fill="none" shape-rendering="geometricPrecision"/>
<text x="520.5" y="424.8" font-size="17" fill="#ff1a1a" font-family="'Liberation Serif', serif">3</text>
<ellipse cx="583.5" cy="358.2" rx="40.1" ry="10.3" stroke="#ff1a1a" stroke-width="1.5" fill="none" shape-rendering="geometricPrecision"/>
<text x="614.3" y="347.4" font-size="17" fill="#ff1a1a" font-family="'Liberation Serif', serif">3</text>
</svg></body></html>
